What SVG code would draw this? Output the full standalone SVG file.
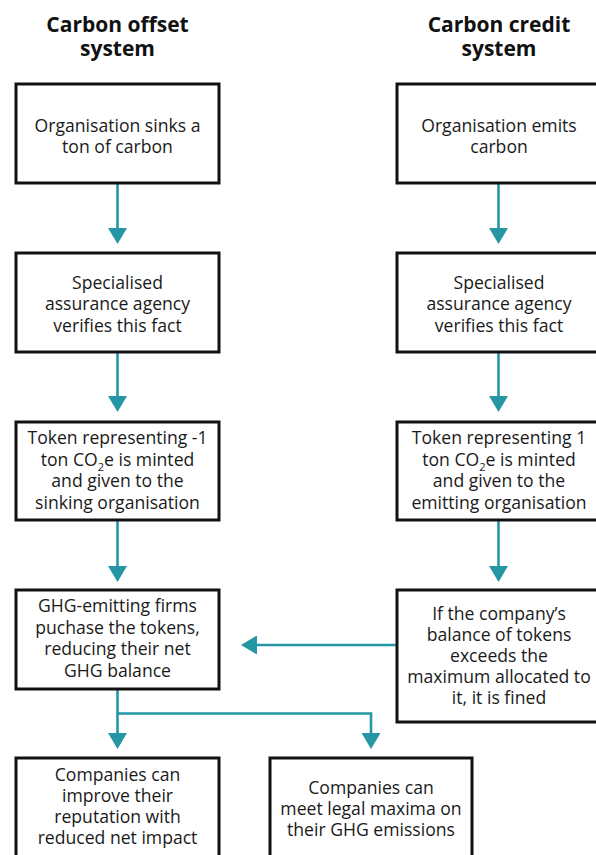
<svg xmlns="http://www.w3.org/2000/svg" width="596" height="855" viewBox="0 0 596 855">
<style>
.box{fill:#fff;stroke:#111;stroke-width:3}
.t{font-family:"Open Sans","Liberation Sans",sans-serif;font-size:17.6px;fill:#1a1a1a;text-anchor:middle}
.h{font-family:"Open Sans","Liberation Sans",sans-serif;font-size:21px;font-weight:bold;fill:#111;text-anchor:middle}
.c{fill:none;stroke:#2496a4;stroke-width:2.6}
.sub{font-size:11px}
</style>
<defs>
<marker id="ah" viewBox="0 0 16 19" refX="2" refY="9.5" markerWidth="16" markerHeight="19" markerUnits="userSpaceOnUse" orient="auto">
<path d="M0,0 L16,9.5 L0,19 z" fill="#2496a4"/>
</marker>
</defs>
<rect width="596" height="855" fill="#fff"/>
<g id="header-offset"><text class="h" x="117.5" y="31.5">Carbon offset</text><text class="h" x="117.5" y="55.5">system</text></g>
<g id="header-credit"><text class="h" x="499" y="31.5">Carbon credit</text><text class="h" x="499" y="55.5">system</text></g>

<g id="connectors">
<path class="c" d="M117.5,184 V230" marker-end="url(#ah)"/>
<path class="c" d="M117.5,353 V398" marker-end="url(#ah)"/>
<path class="c" d="M117.5,521 V568" marker-end="url(#ah)"/>
<path class="c" d="M498.5,184 V230" marker-end="url(#ah)"/>
<path class="c" d="M498.5,353 V398" marker-end="url(#ah)"/>
<path class="c" d="M498.5,521 V568" marker-end="url(#ah)"/>
<path class="c" d="M397,645 H255" marker-end="url(#ah)"/>
<path class="c" d="M117.5,690 V735" marker-end="url(#ah)"/>
<path class="c" d="M117.5,713.5 H371 V735" marker-end="url(#ah)"/>
</g>

<g id="offset-1"><rect class="box" x="16" y="84" width="203" height="99"/>
<text class="t" x="117.5" y="131.5">Organisation sinks a</text><text class="t" x="117.5" y="153">ton of carbon</text></g>
<g id="offset-2"><rect class="box" x="16" y="253" width="203" height="99"/>
<text class="t" x="117.5" y="288.5">Specialised</text><text class="t" x="117.5" y="310">assurance agency</text><text class="t" x="117.5" y="331.5">verifies this fact</text></g>
<g id="offset-3"><rect class="box" x="16" y="422" width="203" height="98"/>
<text class="t" x="117.5" y="444">Token representing -1</text><text class="t" x="117.5" y="465.5">ton CO<tspan class="sub" dy="5">2</tspan><tspan dy="-5">e is minted</tspan></text><text class="t" x="117.5" y="487">and given to the</text><text class="t" x="117.5" y="508.5">sinking organisation</text></g>
<g id="offset-4"><rect class="box" x="16" y="590" width="203" height="99"/>
<text class="t" x="117.5" y="612">GHG-emitting firms</text><text class="t" x="117.5" y="633.5">puchase the tokens,</text><text class="t" x="117.5" y="655">reducing their net</text><text class="t" x="117.5" y="676.5">GHG balance</text></g>
<g id="offset-5"><rect class="box" x="16" y="758" width="203" height="102"/>
<text class="t" x="117.5" y="781">Companies can</text><text class="t" x="117.5" y="802">improve their</text><text class="t" x="117.5" y="823">reputation with</text><text class="t" x="117.5" y="844">reduced net impact</text></g>

<g id="credit-1"><rect class="box" x="397" y="84" width="205" height="99"/>
<text class="t" x="499" y="131.5">Organisation emits</text><text class="t" x="499" y="153">carbon</text></g>
<g id="credit-2"><rect class="box" x="397" y="253" width="205" height="99"/>
<text class="t" x="499" y="288.5">Specialised</text><text class="t" x="499" y="310">assurance agency</text><text class="t" x="499" y="331.5">verifies this fact</text></g>
<g id="credit-3"><rect class="box" x="397" y="422" width="205" height="98"/>
<text class="t" x="499" y="444">Token representing 1</text><text class="t" x="499" y="465.5">ton CO<tspan class="sub" dy="5">2</tspan><tspan dy="-5">e is minted</tspan></text><text class="t" x="499" y="487">and given to the</text><text class="t" x="499" y="508.5">emitting organisation</text></g>
<g id="credit-4"><rect class="box" x="397" y="590" width="205" height="132"/>
<text class="t" x="499" y="619.5">If the company’s</text><text class="t" x="499" y="640.5">balance of tokens</text><text class="t" x="499" y="662">exceeds the</text><text class="t" x="499" y="683">maximum allocated to</text><text class="t" x="499" y="704">it, it is fined</text></g>

<g id="legal-maxima"><rect class="box" x="270" y="758" width="202" height="102"/>
<text class="t" x="371" y="793.5">Companies can</text><text class="t" x="371" y="815">meet legal maxima on</text><text class="t" x="371" y="836">their GHG emissions</text></g>
</svg>
